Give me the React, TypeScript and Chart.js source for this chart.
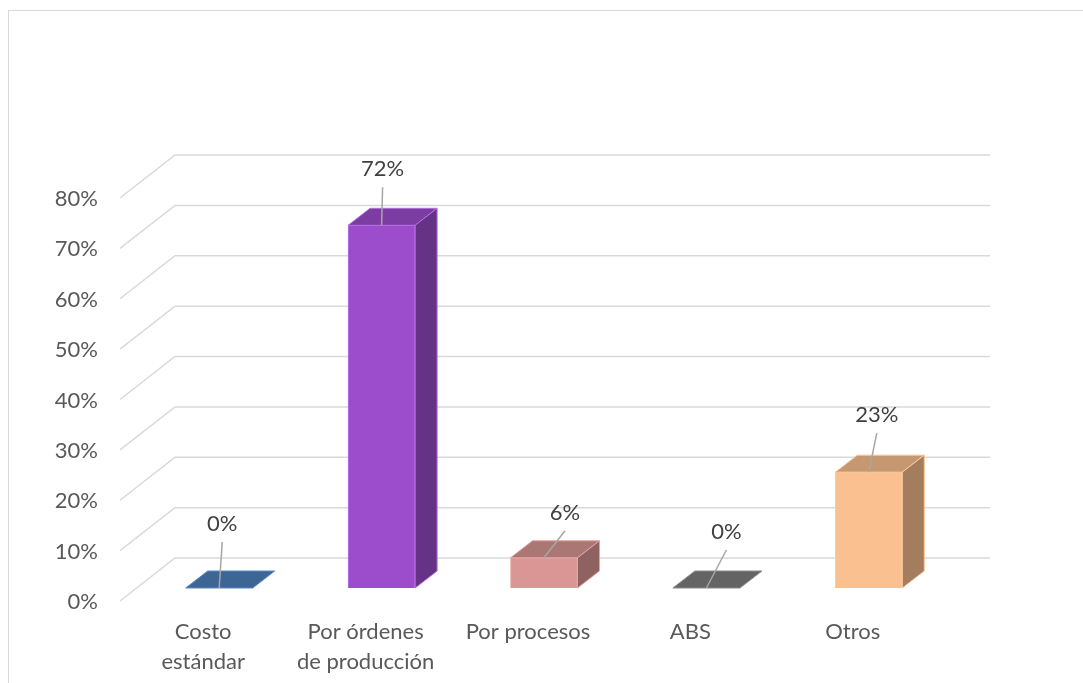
import React, { useEffect, useRef } from 'react';
import { Chart, registerables } from 'chart.js';

Chart.register(...registerables);

// ---- data ----
const categories: (string | string[])[] = [
  ['Costo', 'estándar'],
  ['Por órdenes', 'de producción'],
  'Por procesos',
  'ABS',
  'Otros',
];
const values: number[] = [0, 72, 6, 0, 23];
const yMin = 0;
const yMax = 80;
const yStep = 10;

// ---- styles ----
const barColors = ['#4F81BD', '#9C4DCC', '#D99694', '#7F7F7F', '#FAC090'];
const barEdges = ['#5A8BC6', '#B46EE2', '#E8A3A1', '#8A8A8A', '#FCCA9C'];
const labelNudges: [number, number][] = [
  [3, -64],
  [1, -56],
  [21, -45],
  [20, -56],
  [8, -57],
];
const FONT = 'Lato, "Open Sans", sans-serif';
const DEPTH_DX = 22;
const DEPTH_DY = -17;
const BACK_DY = -30;
const BACK_X0 = 175;
const BACK_X1 = 990;
const FRONT_X = 120;
const FRONT_DY = 13;

function shade(hex: string, f: number): string {
  const n = parseInt(hex.slice(1), 16);
  const r = Math.round(((n >> 16) & 255) * f);
  const g = Math.round(((n >> 8) & 255) * f);
  const b = Math.round((n & 255) * f);
  return `rgb(${r},${g},${b})`;
}

const threeD = {
  id: 'threeD',
  beforeDraw(chart: any) {
    const ctx = chart.ctx;
    ctx.save();
    ctx.fillStyle = '#ffffff';
    ctx.fillRect(0, 0, chart.width, chart.height);
    ctx.strokeStyle = '#D9D9D9';
    ctx.lineWidth = 1;
    ctx.strokeRect(8.5, 10.5, 1200, 800);
    ctx.restore();
  },
  beforeDatasetsDraw(chart: any) {
    const ctx = chart.ctx;
    const ys = chart.scales.y;
    ctx.save();
    ctx.strokeStyle = '#D9D9D9';
    ctx.lineWidth = 1.5;
    for (let v = yMin; v <= yMax; v += yStep) {
      const yb = ys.getPixelForValue(v) + BACK_DY;
      ctx.beginPath();
      ctx.moveTo(FRONT_X, yb - BACK_DY + FRONT_DY);
      ctx.lineTo(BACK_X0, yb);
      ctx.lineTo(BACK_X1, yb);
      ctx.stroke();
    }
    ctx.restore();
  },
  afterDatasetsDraw(chart: any) {
    const ctx = chart.ctx;
    const meta = chart.getDatasetMeta(0);
    ctx.save();
    meta.data.forEach((bar: any, i: number) => {
      const { x, y, base, width } = bar.getProps(['x', 'y', 'base', 'width'], true);
      const l = x - width / 2;
      const r = x + width / 2;
      const col = barColors[i];
      ctx.lineWidth = 1;
      ctx.strokeStyle = barEdges[i];
      // top face
      ctx.beginPath();
      ctx.moveTo(l, y);
      ctx.lineTo(l + DEPTH_DX, y + DEPTH_DY);
      ctx.lineTo(r + DEPTH_DX, y + DEPTH_DY);
      ctx.lineTo(r, y);
      ctx.closePath();
      ctx.fillStyle = shade(col, 0.79);
      ctx.fill();
      ctx.stroke();
      // side face
      if (base - y > 0.5) {
        ctx.beginPath();
        ctx.moveTo(r, y);
        ctx.lineTo(r + DEPTH_DX, y + DEPTH_DY);
        ctx.lineTo(r + DEPTH_DX, base + DEPTH_DY);
        ctx.lineTo(r, base);
        ctx.closePath();
        ctx.fillStyle = shade(col, 0.65);
        ctx.fill();
        ctx.stroke();
      }
    });
    // data labels with leader lines
    ctx.font = `22px ${FONT}`;
    ctx.textAlign = 'center';
    ctx.textBaseline = 'middle';
    meta.data.forEach((bar: any, i: number) => {
      const { x, y } = bar.getProps(['x', 'y'], true);
      const lx = x + labelNudges[i][0];
      const ly = y + labelNudges[i][1];
      ctx.strokeStyle = '#A6A6A6';
      ctx.lineWidth = 1.5;
      ctx.beginPath();
      ctx.moveTo(lx, ly + 18);
      ctx.lineTo(x, y);
      ctx.stroke();
      ctx.fillStyle = '#404040';
      ctx.fillText(`${values[i]}%`, lx, ly);
    });
    ctx.restore();
  },
};

export default function App() {
  const ref = useRef<HTMLCanvasElement>(null);
  useEffect(() => {
    const canvas = ref.current!;
    const chart = new Chart(canvas, {
      type: 'bar',
      data: {
        labels: categories as any,
        datasets: [
          {
            data: values,
            backgroundColor: barColors,
            borderColor: barEdges,
            borderWidth: 1,
            barThickness: 67,
          },
        ],
      },
      options: {
        responsive: false,
        animation: false,
        layout: { padding: { left: 0, right: 133, top: 185, bottom: 0 } },
        plugins: { legend: { display: false }, tooltip: { enabled: false } },
        scales: {
          x: {
            grid: { display: false, drawTicks: false },
            border: { display: false },
            ticks: {
              font: { family: FONT, size: 22, lineHeight: 1.36 },
              color: '#595959',
              padding: 29,
              labelOffset: -16,
              maxRotation: 0,
              autoSkip: false,
            },
            afterFit: (s: any) => {
              s.height = 95;
            },
          },
          y: {
            min: yMin,
            max: yMax,
            grid: { display: false, drawTicks: false },
            border: { display: false },
            ticks: {
              stepSize: yStep,
              callback: (v: any) => `${v}%`,
              font: { family: FONT, size: 22 },
              color: '#595959',
              padding: 40,
              labelOffset: 14,
            },
            afterFit: (s: any) => {
              s.width = 138;
            },
          },
        },
      } as any,
      plugins: [threeD],
    });
    return () => chart.destroy();
  }, []);
  return (
    <canvas
      ref={ref}
      width={1083}
      height={683}
      style={{ position: 'fixed', left: 0, top: 0, display: 'block' }}
    />
  );
}
